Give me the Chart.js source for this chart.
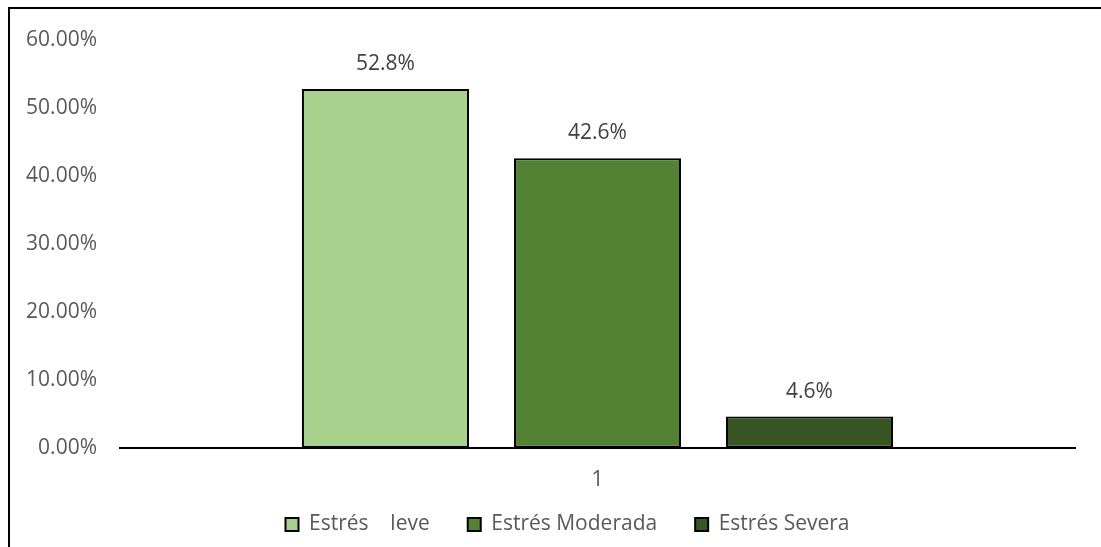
<!DOCTYPE html>
<html>
<head>
<meta charset="utf-8">
<script src="https://cdn.jsdelivr.net/npm/chart.js@4/dist/chart.umd.min.js"></script>
<style>
  html, body { margin: 0; padding: 0; background: #fff; }
  #wrap { position: relative; width: 1101px; height: 547px; }
</style>
</head>
<body>
<div id="wrap"><canvas id="c" width="1101" height="547"></canvas></div>
<script>
// Stress level distribution
const categories = ['1'];
const seriesNames = ['Estrés    leve', 'Estrés Moderada', 'Estrés Severa'];
const seriesValues = [[52.8], [42.6], [4.6]];
const seriesColors = ['#A9D18E', '#548235', '#375623'];
const yTicks = [0, 10, 20, 30, 40, 50, 60];

const FONT = '"Open Sans", "Noto Sans", sans-serif';
const FSIZE = 21;

// Value labels above each bar
const valueLabels = {
  id: 'valueLabels',
  afterDatasetsDraw(chart) {
    const ctx = chart.ctx;
    ctx.save();
    ctx.font = FSIZE + 'px ' + FONT;
    ctx.fillStyle = '#404040';
    ctx.textAlign = 'center';
    ctx.textBaseline = 'middle';
    chart.data.datasets.forEach((ds, i) => {
      chart.getDatasetMeta(i).data.forEach((bar, j) => {
        ctx.fillText(ds.data[j].toFixed(1) + '%', bar.x, bar.y - 25);
      });
    });
    ctx.restore();
  }
};

// Frame lines along the top and left edges
const frame = {
  id: 'frame',
  beforeDraw(chart) {
    const ctx = chart.ctx;
    ctx.save();
    ctx.fillStyle = '#fff';
    ctx.fillRect(0, 0, chart.width, chart.height);
    ctx.strokeStyle = '#000';
    ctx.lineWidth = 2;
    ctx.beginPath();
    ctx.moveTo(9, chart.height);
    ctx.lineTo(9, 8);
    ctx.lineTo(chart.width, 8);
    ctx.stroke();
    ctx.restore();
  }
};

// Centre the legend under the plot and pull it up
const legendPlacement = {
  id: 'legendPlacement',
  afterLayout(chart) {
    const lg = chart.legend;
    if (!lg) return;
    const dx = 30, dy = -37;
    lg.left += dx; lg.right += dx;
    lg.top += dy; lg.bottom += dy;
  }
};

new Chart(document.getElementById('c'), {
  type: 'bar',
  data: {
    labels: categories,
    datasets: seriesNames.map((name, i) => ({
      label: name,
      data: seriesValues[i],
      backgroundColor: seriesColors[i],
      borderColor: '#000',
      borderWidth: 2,
      borderSkipped: false,
      categoryPercentage: 0.666,
      barPercentage: 0.788
    }))
  },
  options: {
    responsive: false,
    animation: false,
    devicePixelRatio: 1,
    layout: { padding: { left: 0, right: 26, top: 40, bottom: -35 } },
    plugins: {
      tooltip: { enabled: false },
      legend: {
        position: 'bottom',
        labels: {
          font: { family: FONT, size: FSIZE },
          color: '#595959',
          boxWidth: 13,
          boxHeight: 13,
          padding: 38
        }
      }
    },
    scales: {
      x: {
        grid: { display: false, drawTicks: false },
        border: { display: true, color: '#000', width: 2 },
        ticks: { font: { family: FONT, size: FSIZE }, color: '#595959', padding: 20 }
      },
      y: {
        min: 0,
        max: 60,
        afterBuildTicks(scale) { scale.ticks = yTicks.map(v => ({ value: v })); },
        afterFit(scale) { scale.width = 120; },
        grid: { display: false, drawTicks: false },
        border: { display: false },
        ticks: {
          font: { family: FONT, size: FSIZE },
          color: '#595959',
          padding: 23,
          callback: v => v.toFixed(2) + '%'
        }
      }
    }
  },
  plugins: [frame, legendPlacement, valueLabels]
});
</script>
</body>
</html>
